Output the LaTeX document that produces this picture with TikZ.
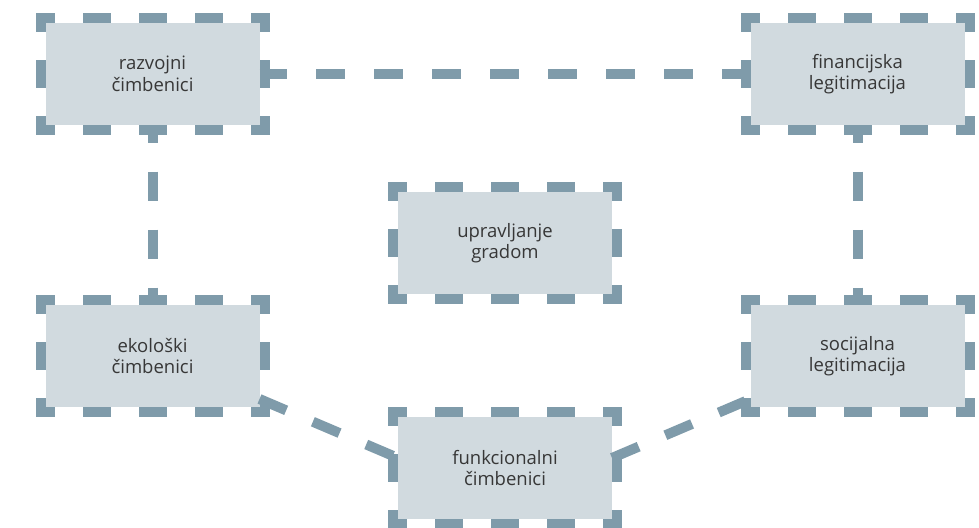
\documentclass[tikz,border=0pt]{standalone}
\usepackage{fontspec}
\setmainfont{Open Sans}
\usepackage{xcolor}
\usepackage{tikz}
\usetikzlibrary{fit,calc}
\definecolor{boxfill}{RGB}{209,218,223}
\definecolor{boxline}{RGB}{127,155,170}
\definecolor{boxtext}{RGB}{55,55,55}

\begin{document}
\begin{tikzpicture}[x=1pt, y=-1pt, font=\fontsize{18.5}{21.5}\selectfont,
  box/.style={fill=boxfill, text=boxtext, align=center, minimum width=214pt, minimum height=102pt, inner sep=0pt, outer sep=0pt},
  frame/.style={draw=boxline, line width=10pt, line cap=rect, dash pattern=on 18pt off 38pt, dash phase=9pt, inner sep=5pt, outer sep=0pt},
  link/.style={draw=boxline, line width=10pt, dash pattern=on 29pt off 29pt}]
\useasboundingbox (0,0) rectangle (979,527);
\node[box] (raz) at (152.5,74) {razvojni\\čimbenici};
\node[box] (fin) at (857.5,74) {financijska\\legitimacija};
\node[box] (upr) at (505,243) {upravljanje\\gradom};
\node[box] (eko) at (152.5,356) {ekološki\\čimbenici};
\node[box] (soc) at (857.5,356) {socijalna\\legitimacija};
\node[box] (fun) at (505,468) {funkcionalni\\čimbenici};
\foreach \n in {raz,fin,upr,eko,soc,fun} \node[frame, fit=(\n)] (\n-frame) {};
\draw[link, dash phase=1.5pt] (raz) -- (fin);
\draw[link, dash phase=11.5pt] (raz) -- (eko);
\draw[link, dash phase=11.5pt] (fin) -- (soc);
\draw[link] ($(eko.south east)+(0,-8)$) -- ($(fun.west)+(0,-10)$);
\draw[link] ($(fun.east)+(0,-10)$) -- ($(soc.south west)+(0,-8)$);
\end{tikzpicture}
\end{document}
